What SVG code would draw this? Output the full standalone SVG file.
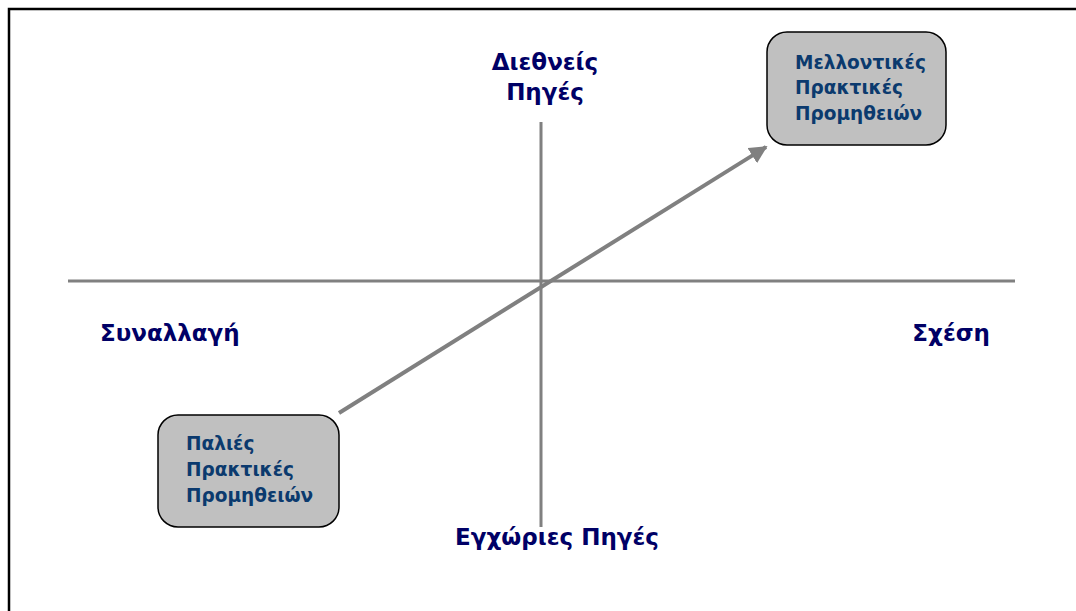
<svg xmlns="http://www.w3.org/2000/svg" width="1076" height="611" viewBox="0 0 1076 611">
  <style>
    .axis { stroke: #808080; stroke-width: 3; fill: none; }
    .label { font-family: "DejaVu Sans", Verdana, sans-serif; font-weight: bold; font-size: 23px; fill: #000066; }
    .box { fill: #c0c0c0; stroke: #000000; stroke-width: 1.5; }
    .boxtext { font-family: "DejaVu Sans", Verdana, sans-serif; font-weight: bold; font-size: 18.5px; fill: #0b3a6e; }
  </style>
  <defs>
    <marker id="arrowhead" viewBox="0 0 10 10" refX="9" refY="5" markerWidth="4.5" markerHeight="4.5" orient="auto" markerUnits="strokeWidth">
      <path d="M0,0 L10,5 L0,10 Z" fill="#808080"/>
    </marker>
  </defs>
  <rect x="0" y="0" width="1076" height="611" fill="#ffffff"/>
  <!-- outer frame -->
  <path d="M9,611 L9,9 L1076,9" fill="none" stroke="#000000" stroke-width="2.5"/>

  <g id="connectors">
    <line class="axis" x1="68" y1="281" x2="1015" y2="281"/>
    <line class="axis" x1="541" y1="122" x2="541" y2="527"/>
    <line x1="339" y1="413" x2="766" y2="147" stroke="#808080" stroke-width="4" marker-end="url(#arrowhead)"/>
  </g>

  <g id="label-international">
    <text class="label" x="545" y="70" text-anchor="middle">Διεθνείς</text>
    <text class="label" x="545" y="100" text-anchor="middle">Πηγές</text>
  </g>
  <g id="label-transaction">
    <text class="label" x="100" y="341">Συναλλαγή</text>
  </g>
  <g id="label-relationship">
    <text class="label" x="990" y="341" text-anchor="end">Σχέση</text>
  </g>
  <g id="label-local">
    <text class="label" x="557" y="545" text-anchor="middle">Εγχώριες Πηγές</text>
  </g>

  <g id="node-future">
    <rect class="box" x="767" y="32" width="179" height="113" rx="20" ry="20"/>
    <text class="boxtext" x="795" y="69">Μελλοντικές</text>
    <text class="boxtext" x="795" y="94">Πρακτικές</text>
    <text class="boxtext" x="795" y="120">Προμηθειών</text>
  </g>

  <g id="node-past">
    <rect class="box" x="158" y="415" width="181" height="112" rx="20" ry="20"/>
    <text class="boxtext" x="186" y="450">Παλιές</text>
    <text class="boxtext" x="186" y="476">Πρακτικές</text>
    <text class="boxtext" x="186" y="502">Προμηθειών</text>
  </g>
</svg>
